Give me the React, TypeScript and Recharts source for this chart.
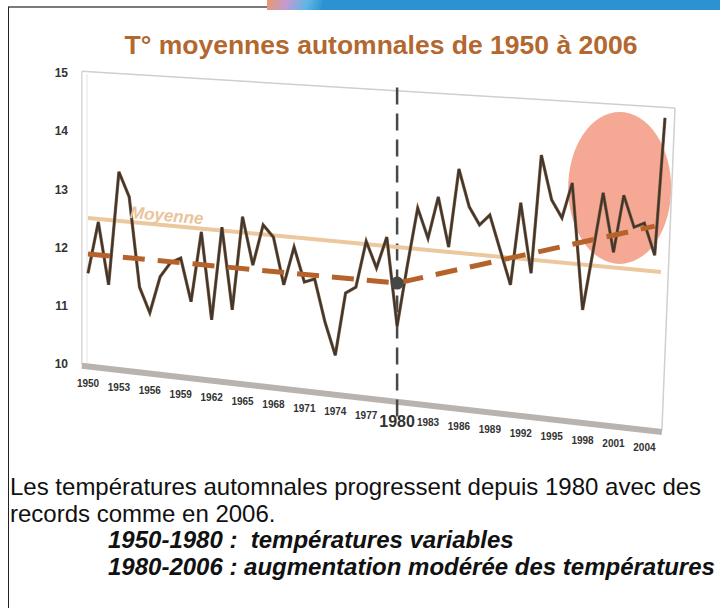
import React from 'react';
import { LineChart, Line, XAxis, YAxis, ReferenceLine, ReferenceArea, ReferenceDot } from 'recharts';

// autumn mean temperatures
const years = [
  1950, 1951, 1952, 1953, 1954, 1955, 1956, 1957, 1958, 1959,
  1960, 1961, 1962, 1963, 1964, 1965, 1966, 1967, 1968, 1969,
  1970, 1971, 1972, 1973, 1974, 1975, 1976, 1977, 1978, 1979,
  1980, 1981, 1982, 1983, 1984, 1985, 1986, 1987, 1988, 1989,
  1990, 1991, 1992, 1993, 1994, 1995, 1996, 1997, 1998, 1999,
  2000, 2001, 2002, 2003, 2004, 2005, 2006,
];
const temps = [
  11.56, 12.44, 11.36, 13.3, 12.87, 11.32, 10.88, 11.5, 11.74, 11.82,
  11.07, 12.27, 10.76, 12.35, 10.93, 12.53, 11.7, 12.39, 12.18, 11.36,
  12.01, 11.41, 11.46, 10.72, 10.15, 11.22, 11.32, 12.11, 11.65, 12.18,
  10.65, 11.7, 12.68, 12.16, 12.87, 12.01, 13.35, 12.7, 12.39, 12.56,
  11.96, 11.36, 12.77, 11.56, 13.59, 12.82, 12.51, 13.11, 10.93, 11.92,
  12.94, 11.92, 12.9, 12.35, 12.42, 11.87, 14.23,
];

const trendYears = [1950, 1980, 2005];
const trendValues = [11.89, 11.39, 12.37];

const meanYears = [1950, 2005.6];
const meanValues = [12.51, 11.58];

const yTicks = [10, 11, 12, 13, 14, 15];
const xTicks = [
  1950, 1953, 1956, 1959, 1962, 1965, 1968, 1971, 1974, 1977,
  1980, 1983, 1986, 1989, 1992, 1995, 1998, 2001, 2004,
];

const pivotYear = 1980;
const recordZone = { x1: 1996.6, x2: 2006.6, y1: 11.72, y2: 14.33 };

const data = years.map((year, i) => ({ year, temp: temps[i] }));
const trendData = trendYears.map((year, i) => ({ year, trend: trendValues[i] }));
const meanData = meanYears.map((year, i) => ({ year, mean: meanValues[i] }));

const FONT = '"Liberation Sans", Arial, sans-serif';

const YearTick = (props: any) => {
  const { x, payload } = props;
  const big = payload.value === pivotYear;
  // labels drop down to the right, like the tilted floor of the slide
  const y = 387 + 0.115 * (x - 88);
  return (
    <text
      x={x}
      y={big ? y + 4 : y}
      textAnchor="middle"
      fontSize={big ? 16 : 10}
      fontWeight="bold"
      fontFamily={big ? '"Liberation Sans Narrow", "Liberation Sans", Arial' : FONT}
      fill="#333"
    >
      {payload.value}
    </text>
  );
};

const Ellipse = (props: any) => {
  const { x, y, width, height } = props;
  return <ellipse cx={x + width / 2} cy={y + height / 2} rx={width / 2} ry={height / 2} fill="#f5a994" />;
};

export default function App() {
  return (
    <div style={{ position: 'absolute', left: 0, top: 0, width: 720, height: 608, background: '#fff', overflow: 'hidden', fontFamily: FONT }}>
      {/* slide frame */}
      <div style={{ position: 'absolute', left: 8, top: 6, width: 260, height: 2, background: '#7a7a7a' }} />
      <div style={{ position: 'absolute', left: 8, top: 7, width: 1, height: 601, background: '#222' }} />
      <div style={{ position: 'absolute', left: 267, top: 0, width: 453, height: 10, background: '#2d93d0' }} />
      <div style={{ position: 'absolute', left: 267, top: 0, width: 55, height: 10, background: 'linear-gradient(110deg, #e89a6a 0%, #c49ad0 35%, #5fb6e6 70%, #2d93d0 100%)' }} />

      <div style={{ position: 'absolute', left: 0, top: 30, width: 762, textAlign: 'center', fontSize: 26.5, fontWeight: 'bold', color: '#b2682f' }}>
        T° moyennes automnales de 1950 à 2006
      </div>

      <LineChart width={720} height={608} data={data} margin={{ top: 73, right: 55, left: 28, bottom: 214 }}>
        <XAxis
          dataKey="year"
          type="number"
          domain={[1950, 2006]}
          ticks={xTicks}
          interval={0}
          axisLine={false}
          tickLine={false}
          tickSize={0}
          height={30}
          tick={<YearTick />}
        />
        <YAxis
          type="number"
          domain={[10, 15]}
          ticks={yTicks}
          axisLine={false}
          tickLine={false}
          tickSize={0}
          tickMargin={20}
          width={60}
          tick={{ fontSize: 12, fontWeight: 'bold', fill: '#333', fontFamily: FONT }}
        />

        {/* tilted 3D box */}
        <ReferenceLine segment={[{ x: 1949.4, y: 15.03 }, { x: 2006.97, y: 14.4 }]} stroke="#cfcfcf" strokeWidth={1.5} ifOverflow="visible" />
        <ReferenceLine segment={[{ x: 1949.4, y: 15.03 }, { x: 1949.4, y: 10.0 }]} stroke="#d6d6d6" strokeWidth={1.5} ifOverflow="visible" />
        <ReferenceLine segment={[{ x: 1949.9, y: 14.98 }, { x: 1949.9, y: 10.0 }]} stroke="#e4e4e4" strokeWidth={1} ifOverflow="visible" />
        <ReferenceLine segment={[{ x: 2006.97, y: 14.4 }, { x: 2005.7, y: 8.87 }]} stroke="#d0d0d0" strokeWidth={1.5} ifOverflow="visible" />
        <ReferenceLine segment={[{ x: 1949.4, y: 9.97 }, { x: 2005.7, y: 8.83 }]} stroke="#b8b3ae" strokeWidth={6} ifOverflow="visible" />

        <ReferenceArea {...recordZone} ifOverflow="visible" shape={<Ellipse />} />

        <ReferenceLine
          segment={[{ x: pivotYear, y: 14.75 }, { x: pivotYear, y: 8.98 }]}
          stroke="#484848"
          strokeWidth={2.5}
          strokeDasharray="17 9"
          ifOverflow="visible"
        />

        <Line data={meanData} dataKey="mean" stroke="#ecc89f" strokeWidth={4} dot={false} isAnimationActive={false} />
        <Line dataKey="temp" stroke="#8f6038" strokeWidth={3.2} dot={false} isAnimationActive={false} />
        <Line dataKey="temp" stroke="#3a3734" strokeWidth={2} dot={false} isAnimationActive={false} />
        <Line
          data={trendData}
          dataKey="trend"
          stroke="#b5632a"
          strokeWidth={5}
          strokeDasharray="22 13"
          dot={false}
          isAnimationActive={false}
        />
        <ReferenceDot x={pivotYear} y={trendValues[1]} r={6.5} fill="#474747" stroke="none" />
      </LineChart>

      <div style={{ position: 'absolute', left: 130, top: 203, fontSize: 17, fontWeight: 'bold', fontStyle: 'italic', color: '#e9c49a', transform: 'rotate(5deg)', transformOrigin: 'left center' }}>
        Moyenne
      </div>

      <div style={{ position: 'absolute', left: 10, top: 474, fontSize: 24, lineHeight: '26.5px', color: '#111', whiteSpace: 'nowrap' }}>
        Les températures automnales progressent depuis 1980 avec des
        <br />
        records comme en 2006.
      </div>
      <div style={{ position: 'absolute', left: 108, top: 527, fontSize: 24, lineHeight: '26.5px', fontWeight: 'bold', fontStyle: 'italic', color: '#111', whiteSpace: 'pre' }}>
        {'1950-1980 :  températures variables\n1980-2006 : augmentation modérée des températures'}
      </div>
    </div>
  );
}
